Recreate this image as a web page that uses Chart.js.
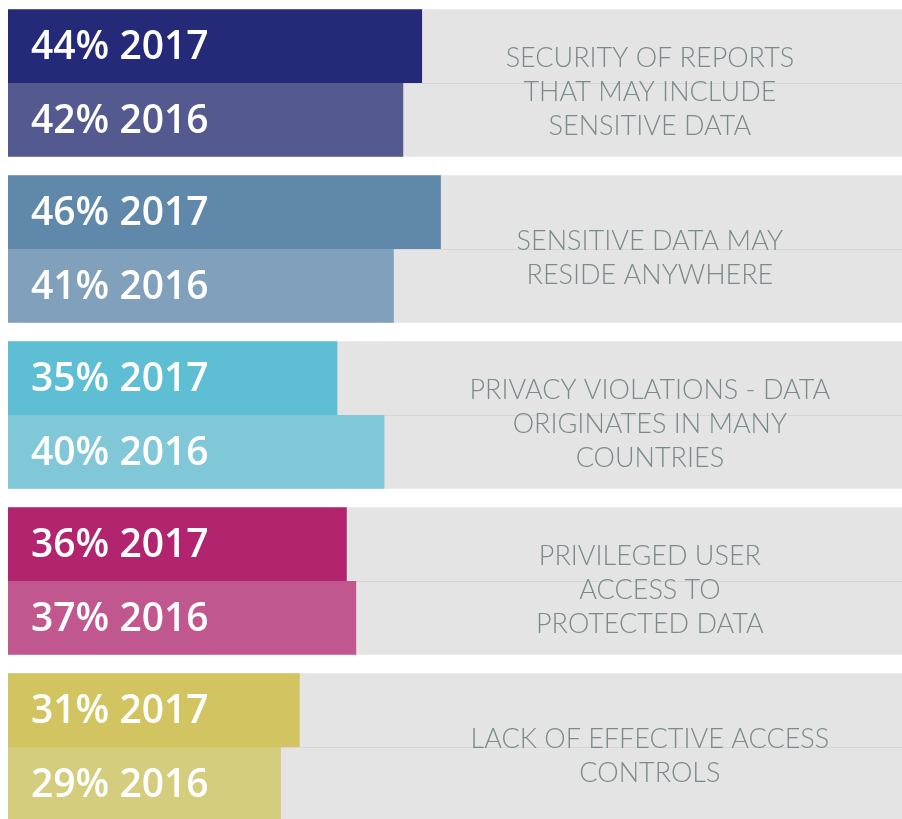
<!DOCTYPE html>
<html>
<head>
<meta charset="utf-8">
<script src="https://cdn.jsdelivr.net/npm/chart.js@4/dist/chart.umd.min.js"></script>
<style>
  html, body { margin: 0; padding: 0; background: #fff; overflow: hidden; }
  #wrap { width: 902px; height: 830px; }
</style>
</head>
<body>
<div id="wrap"><canvas id="riskChart"></canvas></div>
<script>
const categories = [
  ['SECURITY OF REPORTS', 'THAT MAY INCLUDE', 'SENSITIVE DATA'],
  ['SENSITIVE DATA MAY', 'RESIDE ANYWHERE'],
  ['PRIVACY VIOLATIONS - DATA', 'ORIGINATES IN MANY', 'COUNTRIES'],
  ['PRIVILEGED USER', 'ACCESS TO', 'PROTECTED DATA'],
  ['LACK OF EFFECTIVE ACCESS', 'CONTROLS']
];
const values2017 = [44, 46, 35, 36, 31];
const values2016 = [42, 41, 40, 37, 29];
const years = ['2017', '2016'];
const scaleMax = 95;

const colors2017 = ['#252a78', '#6088ab', '#5dbed4', '#b3246f', '#d2c561'];
const colors2016 = ['#545a8f', '#80a0bb', '#80c8d8', '#c1578f', '#d5cd7e'];

const panelValues = categories.map(() => scaleMax);

// draws the gray panels' seam, the bar captions and the category text
const decorations = {
  id: 'decorations',
  afterDatasetDraw(chart, args) {
    if (args.index !== 2) return;
    const ctx = chart.ctx;
    const area = chart.chartArea;
    const yScale = chart.scales.y;
    ctx.save();
    ctx.strokeStyle = '#d6d6d6';
    ctx.lineWidth = 1;
    categories.forEach((c, i) => {
      const y = Math.round(yScale.getPixelForValue(i)) + 0.5;
      ctx.beginPath();
      ctx.moveTo(area.left, y);
      ctx.lineTo(area.right, y);
      ctx.stroke();
    });
    ctx.restore();
  },
  afterDatasetsDraw(chart) {
    const ctx = chart.ctx;
    const xScale = chart.scales.x;
    const yScale = chart.scales.y;
    ctx.save();
    // bar captions
    ctx.fillStyle = '#ffffff';
    ctx.font = '600 39px "Open Sans", sans-serif';
    ctx.textAlign = 'left';
    ctx.textBaseline = 'middle';
    [0, 1].forEach(di => {
      const meta = chart.getDatasetMeta(di);
      const vals = di === 0 ? values2017 : values2016;
      meta.data.forEach((bar, i) => {
        ctx.fillText(vals[i] + '% ' + years[di], bar.base + 23, bar.y + 2);
      });
    });
    // category text
    ctx.fillStyle = '#7a8a8a';
    ctx.font = '300 27px Lato, sans-serif';
    ctx.textAlign = 'center';
    const cx = xScale.getPixelForValue(scaleMax * 0.718);
    categories.forEach((lines, i) => {
      const cy = yScale.getPixelForValue(i) + 9;
      const lh = 34;
      const top = cy - (lines.length - 1) * lh / 2;
      lines.forEach((t, k) => ctx.fillText(t, cx, top + k * lh));
    });
    ctx.restore();
  }
};

new Chart(document.getElementById('riskChart').getContext('2d'), {
  type: 'bar',
  data: {
    labels: categories,
    datasets: [
      {
        label: '2017',
        data: values2017,
        backgroundColor: colors2017,
        order: 1,
        barPercentage: 1,
        categoryPercentage: 0.89
      },
      {
        label: '2016',
        data: values2016,
        backgroundColor: colors2016,
        order: 1,
        barPercentage: 1,
        categoryPercentage: 0.89
      },
      {
        label: 'panel',
        data: panelValues,
        backgroundColor: '#e4e4e4',
        grouped: false,
        order: 2,
        barPercentage: 1,
        categoryPercentage: 0.89
      }
    ]
  },
  options: {
    indexAxis: 'y',
    responsive: true,
    maintainAspectRatio: false,
    animation: false,
    layout: { padding: { left: 8, right: 0, top: 0, bottom: 0 } },
    plugins: {
      legend: { display: false },
      tooltip: { enabled: false }
    },
    scales: {
      x: {
        display: false,
        min: 0,
        max: scaleMax
      },
      y: {
        display: false
      }
    }
  },
  plugins: [decorations]
});
</script>
</body>
</html>
